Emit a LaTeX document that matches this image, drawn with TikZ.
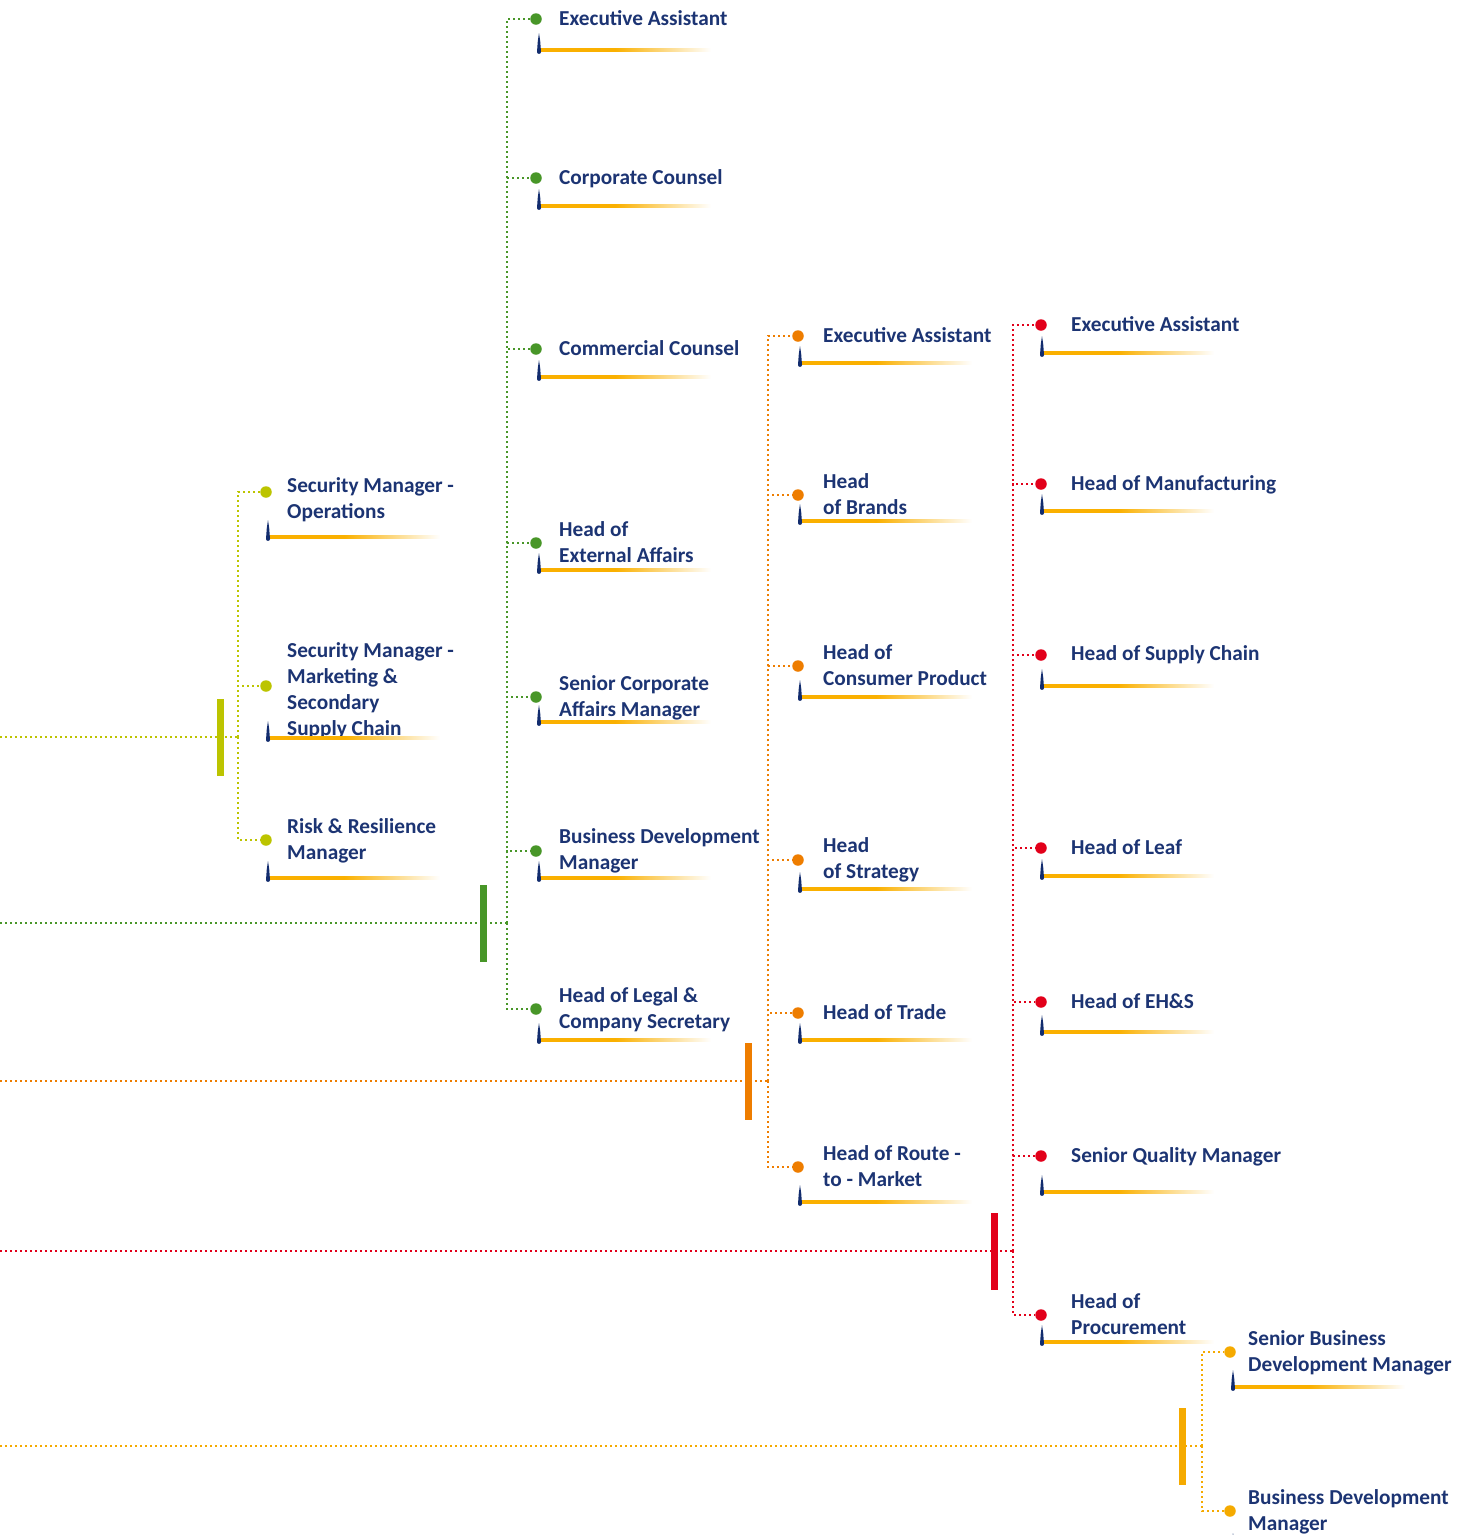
\documentclass[tikz,border=0pt]{standalone}
\usepackage{fontspec}
\setmainfont{Carlito}
\usetikzlibrary{calc}
\definecolor{lineLime}{RGB}{188,196,0}
\definecolor{lineGreen}{RGB}{72,150,40}
\definecolor{lineOrange}{RGB}{238,125,0}
\definecolor{lineRed}{RGB}{226,0,26}
\definecolor{lineAmber}{RGB}{245,170,0}
\definecolor{ruleOrange}{RGB}{250,176,0}
\definecolor{roleBlue}{RGB}{28,52,115}
\definecolor{tickBlue}{RGB}{18,44,110}
\pgfdeclarehorizontalshading{rulefade}{100bp}{color(0bp)=(ruleOrange); color(25bp)=(ruleOrange); color(47bp)=(ruleOrange); color(75bp)=(white); color(100bp)=(white)}
\tikzset{
role node/.style={anchor=base west,align=left,inner sep=0pt,text=roleBlue,
  font=\bfseries\fontsize{21.3}{25.8}\selectfont},
bullet node/.style={circle,inner sep=0pt,minimum size=11.5pt,fill=#1},
branch/.style={draw=#1,line width=2.3pt,dash pattern=on 2.3pt off 2.7pt},
stem bar/.style={fill=#1,inner sep=0pt,minimum width=7pt,minimum height=77pt},
role rule/.pic={
  \shade[shading=rulefade] (1,-1.7) rectangle (172,1.7);
  \fill[tickBlue] (-2,2) .. controls (-2,4.5) and (2,4.5) .. (2,2)
    -- (1.2,-9) -- (0,-17) -- (-1.2,-9) -- cycle;}}

\begin{document}
\begin{tikzpicture}[x=1pt,y=-1pt]
\useasboundingbox (0,0) rectangle (1466,1535);

% security
\coordinate (a0) at (0,737);
\coordinate (aj) at (238,737);
\draw[branch=lineLime] (a0) -- (aj);
\foreach \dy/\by/\uy/\txt [count=\i] in {
  492/518/537/{Security Manager -\\Operations},
  686/735/738/{Security Manager -\\Marketing \&\\Secondary\\Supply Chain},
  840/859/878/{Risk \& Resilience\\Manager}}{
  \node[bullet node=lineLime] (a\i) at (266,\dy) {};
  \draw[branch=lineLime] (aj) |- (a\i);
  \node[role node] (at\i) at (287,\by) {\txt};
  \pic at (268,\uy) {role rule};
}
\node[stem bar=lineLime] (abar) at (220,737) {};

% legal and corporate affairs
\coordinate (b0) at (0,923);
\coordinate (bj) at (507,923);
\draw[branch=lineGreen] (b0) -- (bj);
\foreach \dy/\by/\uy/\txt [count=\i] in {
  19/25/50/{Executive Assistant},
  178/184/206/{Corporate Counsel},
  349/355/377/{Commercial Counsel},
  543/562/570/{Head of\\External Affairs},
  697/716/722/{Senior Corporate\\Affairs Manager},
  851/869/878/{Business Development\\Manager},
  1009/1028/1040/{Head of Legal \&\\Company Secretary}}{
  \node[bullet node=lineGreen] (b\i) at (536,\dy) {};
  \draw[branch=lineGreen] (bj) |- (b\i);
  \node[role node] (bt\i) at (559,\by) {\txt};
  \pic at (539,\uy) {role rule};
}
\node[stem bar=lineGreen] (bbar) at (483,923) {};

% marketing
\coordinate (c0) at (0,1081);
\coordinate (cj) at (768,1081);
\draw[branch=lineOrange] (c0) -- (cj);
\foreach \dy/\by/\uy/\txt [count=\i] in {
  336/342/363/{Executive Assistant},
  495/514/521/{Head\\of Brands},
  666/685/697/{Head of\\Consumer Product},
  860/878/889/{Head\\of Strategy},
  1013/1019/1040/{Head of Trade},
  1167/1186/1202/{Head of Route -\\to - Market}}{
  \node[bullet node=lineOrange] (c\i) at (798,\dy) {};
  \draw[branch=lineOrange] (cj) |- (c\i);
  \node[role node] (ct\i) at (823,\by) {\txt};
  \pic at (800,\uy) {role rule};
}
\node[stem bar=lineOrange] (cbar) at (748,1081) {};

% operations
\coordinate (d0) at (0,1251);
\coordinate (dj) at (1013,1251);
\draw[branch=lineRed] (d0) -- (dj);
\foreach \dy/\by/\uy/\txt [count=\i] in {
  325/331/353/{Executive Assistant},
  484/490/511/{Head of Manufacturing},
  655/660/686/{Head of Supply Chain},
  848/854/876/{Head of Leaf},
  1002/1008/1032/{Head of EH\&S},
  1156/1162/1192/{Senior Quality Manager},
  1315/1334/1342/{Head of\\Procurement}}{
  \node[bullet node=lineRed] (d\i) at (1041,\dy) {};
  \draw[branch=lineRed] (dj) |- (d\i);
  \node[role node] (dt\i) at (1071,\by) {\txt};
  \pic at (1042,\uy) {role rule};
}
\node[stem bar=lineRed] (dbar) at (994,1251) {};

% business development
\coordinate (e0) at (0,1446);
\coordinate (ej) at (1202,1446);
\draw[branch=lineAmber] (e0) -- (ej);
\foreach \dy/\by/\uy/\txt [count=\i] in {
  1352/1371/1387/{Senior Business\\Development Manager},
  1511/1530/1550/{Business Development\\Manager}}{
  \node[bullet node=lineAmber] (e\i) at (1230,\dy) {};
  \draw[branch=lineAmber] (ej) |- (e\i);
  \node[role node] (et\i) at (1248,\by) {\txt};
  \pic at (1233,\uy) {role rule};
}
\node[stem bar=lineAmber] (ebar) at (1182,1446) {};
\end{tikzpicture}
\end{document}
